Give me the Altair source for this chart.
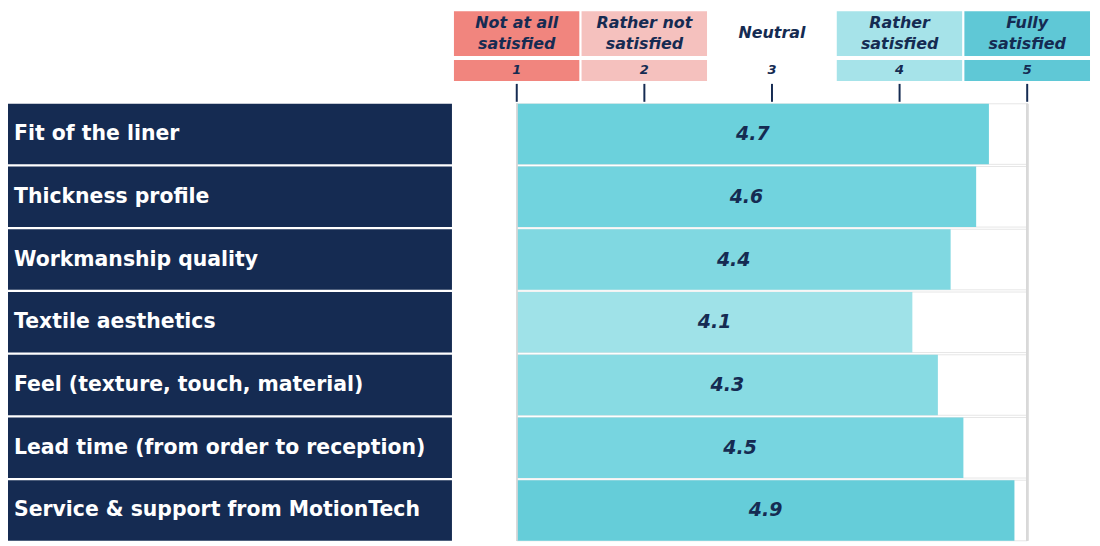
import altair as alt
import pandas as pd

# ---- data ----
items = [
    "Fit of the liner",
    "Thickness profile",
    "Workmanship quality",
    "Textile aesthetics",
    "Feel (texture, touch, material)",
    "Lead time (from order to reception)",
    "Service & support from MotionTech",
]
scores = [4.7, 4.6, 4.4, 4.1, 4.3, 4.5, 4.9]

levels = [1, 2, 3, 4, 5]
level_names = [
    "Not at all\nsatisfied",
    "Rather not\nsatisfied",
    "Neutral",
    "Rather\nsatisfied",
    "Fully\nsatisfied",
]
level_colors = ["#f1857e", "#f5c1be", "#ffffff", "#a6e3e9", "#5fc8d6"]

# colour ramp of the score bars
ramp_scores = [4.1, 4.3, 4.5, 4.7, 4.9]
ramp_colors = ["#9fe2e8", "#88dbe3", "#77d5e0", "#6bd1dc", "#65cdd9"]

# ---- style / layout ----
NAVY = "#152b52"
FONT = "DejaVu Sans"
LABEL_W = 446
BAR_W = 641
GAP = 1
unit = BAR_W / 5
x_lo = 0.5 - (LABEL_W + GAP) / unit
FULL_W = LABEL_W + GAP + BAR_W

head_df = pd.DataFrame({"level": levels, "name": level_names, "color": level_colors})
body_df = pd.DataFrame({"item": items, "score": scores})

x_head = alt.Scale(domain=[x_lo, 5.5], nice=False, zero=False)
x_body = alt.Scale(domain=[0.5, 5.5], nice=False, zero=False)

head_base = alt.Chart(head_df).transform_calculate(
    lo="datum.level - 0.5", hi="datum.level + 0.5"
)

head_text_style = dict(
    font=FONT, fontSize=16, fontWeight="bold", fontStyle="italic",
    color=NAVY, lineBreak="\n", lineHeight=21, baseline="middle",
)

hdr1 = alt.layer(
    head_base.mark_rect(stroke="white", strokeWidth=2).encode(
        x=alt.X("lo:Q", scale=x_head, axis=None),
        x2="hi:Q",
        color=alt.Color("color:N", scale=None),
    ),
    head_base.transform_filter("indexof(datum.name, '\\n') >= 0").mark_text(
        dy=-11, **head_text_style
    ).encode(
        x=alt.X("level:Q", scale=x_head, axis=None),
        text="name:N",
    ),
    head_base.transform_filter("indexof(datum.name, '\\n') < 0").mark_text(
        dy=-1, **head_text_style
    ).encode(
        x=alt.X("level:Q", scale=x_head, axis=None),
        text="name:N",
    ),
).properties(width=FULL_W, height=47)

hdr2 = alt.layer(
    head_base.mark_rect(stroke="white", strokeWidth=2).encode(
        x=alt.X("lo:Q", scale=x_head, axis=None),
        x2="hi:Q",
        color=alt.Color("color:N", scale=None),
    ),
    head_base.mark_text(
        font=FONT, fontSize=13, fontWeight="bold", fontStyle="italic",
        color=NAVY, baseline="middle",
    ).encode(
        x=alt.X("level:Q", scale=x_head, axis=None),
        text="level:N",
    ),
).properties(width=FULL_W, height=23)

ticks = alt.Chart(head_df).mark_rule(color=NAVY, strokeWidth=2).encode(
    x=alt.X("level:Q", scale=x_head, axis=None),
).properties(width=FULL_W, height=18)

y_enc = alt.Y("item:N", sort=items, axis=None,
              scale=alt.Scale(paddingInner=0.035, paddingOuter=0))

labels = alt.layer(
    alt.Chart(body_df).mark_rect(color=NAVY).encode(y=y_enc),
    alt.Chart(body_df).mark_text(
        font=FONT, fontSize=20.5, fontWeight="bold", color="white",
        align="left", baseline="middle",
    ).encode(y=y_enc, x=alt.value(6), text="item:N"),
).properties(width=LABEL_W, height=439)

body_base = alt.Chart(body_df).transform_calculate(
    lo=str(min(levels)), hi=str(max(levels)),
    mid=f"({min(levels)} + datum.score) / 2",
)

bars = alt.layer(
    body_base.mark_rect(fill="white", stroke="#e6e6e6", strokeWidth=1).encode(
        x=alt.X("lo:Q", scale=x_body, axis=None), x2="hi:Q", y=y_enc,
    ),
    body_base.mark_rect().encode(
        x=alt.X("lo:Q", scale=x_body, axis=None), x2="score:Q", y=y_enc,
        color=alt.Color("score:Q", legend=None,
                        scale=alt.Scale(domain=ramp_scores, range=ramp_colors)),
    ),
    body_base.mark_rule(color="#d9d9d9", strokeWidth=2).encode(
        x=alt.X("hi:Q", scale=x_body, axis=None),
    ),
    body_base.mark_rule(color="#d9d9d9", strokeWidth=1).encode(
        x=alt.X("lo:Q", scale=x_body, axis=None),
    ),
    body_base.mark_text(
        font=FONT, fontSize=19, fontWeight="bold", fontStyle="italic",
        color=NAVY, baseline="middle",
    ).encode(
        x=alt.X("mid:Q", scale=x_body, axis=None), y=y_enc,
        text=alt.Text("score:Q", format=".1f"),
    ),
).properties(width=BAR_W, height=439)

body = alt.hconcat(labels, bars, spacing=GAP, bounds="flush")

chart = alt.vconcat(hdr1, hdr2, ticks, body, spacing=2, bounds="flush").properties(
    padding=0
).configure_view(stroke=None)

chart.save("out.html", embed_options={"renderer": "svg", "actions": False})
